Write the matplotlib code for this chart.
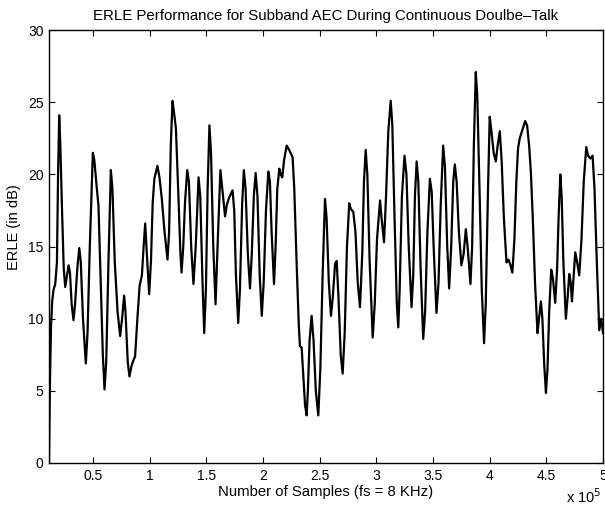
import matplotlib
matplotlib.use("Agg")
import matplotlib.pyplot as plt
import numpy as np

plt.rcParams['font.family'] = ['Liberation Sans', 'DejaVu Sans']

# sample index (in thousands) and ERLE in dB
samples_k = [
    11.0, 11.8, 12.8, 13.8, 15.0, 16.5, 18.0, 19.0, 20.0, 21.0, 22.4, 24.0,
    25.3, 26.5, 28.3, 29.5, 31.0, 32.6, 34.0, 36.0, 37.7, 39.0, 41.0, 43.5,
    45.0, 47.0, 49.7, 51.0, 53.0, 54.7, 56.5, 58.5, 60.0, 61.5, 63.5, 65.6,
    67.0, 69.0, 71.5, 73.8, 75.5, 77.3, 78.5, 80.5, 82.0, 84.0, 87.0, 89.0,
    91.0, 93.0, 94.5, 95.9, 97.0, 99.4, 101.0, 102.5, 104.0, 106.7, 108.5, 110.6,
    113.0, 115.6, 117.0, 118.5, 120.0, 121.5, 123.0, 125.0, 127.0, 128.0, 129.5, 131.0,
    133.0, 134.5, 136.5, 138.5, 140.5, 143.0, 144.5, 146.5, 148.0, 149.5, 151.0, 152.6,
    154.0, 156.0, 158.0, 160.0, 162.3, 164.0, 166.4, 168.0, 170.0, 173.0, 174.5, 176.0,
    178.0, 179.5, 181.5, 183.0, 184.5, 186.5, 188.4, 190.0, 191.8, 193.4, 195.0, 197.0,
    198.8, 200.5, 202.5, 204.6, 206.0, 207.5, 209.6, 211.0, 212.5, 214.3, 215.5, 216.9,
    218.5, 220.8, 223.0, 226.0, 227.5, 229.5, 231.5, 232.5, 234.0, 235.5, 237.0, 238.4,
    239.5, 241.0, 242.8, 244.5, 246.5, 248.7, 250.5, 252.5, 254.6, 256.0, 258.0, 259.9,
    261.5, 263.5, 264.9, 266.5, 268.5, 270.2, 272.0, 274.0, 276.0, 277.5, 279.6, 281.5,
    283.5, 285.5, 287.5, 289.0, 290.5, 292.0, 294.0, 296.7, 298.5, 300.5, 303.2, 304.5,
    306.7, 308.5, 310.5, 312.6, 314.0, 316.0, 318.0, 319.3, 320.5, 322.5, 324.8, 326.5,
    328.5, 331.0, 332.5, 334.0, 335.5, 337.0, 339.0, 341.3, 343.0, 345.0, 347.2, 348.8,
    350.5, 353.0, 354.8, 356.8, 358.9, 360.5, 362.5, 364.2, 366.0, 367.8, 369.2, 370.8,
    372.8, 375.0, 377.0, 378.9, 380.5, 383.0, 384.5, 386.0, 387.7, 389.0, 391.0, 393.0,
    395.0, 396.5, 398.5, 400.0, 401.5, 403.5, 405.4, 407.0, 408.9, 410.5, 412.5, 414.8,
    416.5, 418.0, 420.0, 421.8, 423.5, 425.0, 426.5, 428.5, 431.3, 433.0, 434.8, 436.3,
    438.0, 440.0, 442.2, 443.5, 445.2, 446.5, 448.0, 449.6, 451.0, 452.5, 454.3, 455.8,
    457.8, 459.5, 460.8, 462.3, 463.5, 465.0, 467.2, 468.8, 470.2, 471.5, 472.6, 474.0,
    475.5, 477.0, 479.0, 481.0, 483.0, 485.2, 486.8, 488.8, 490.8, 492.5, 494.5, 496.7,
    498.5, 500.0,
]
erle_db = [
    0.0, 5.5, 9.5, 11.2, 12.0, 12.4, 13.9, 20.0, 24.1, 22.0, 17.8, 13.5,
    12.2, 12.8, 13.7, 13.2, 11.0, 9.9, 11.0, 13.5, 14.9, 14.0, 10.0, 6.9,
    9.0, 15.0, 21.5, 21.0, 19.2, 17.8, 13.0, 7.5, 5.1, 7.0, 14.0, 20.3,
    19.0, 14.0, 10.5, 8.8, 10.0, 11.6, 10.5, 7.0, 6.0, 6.8, 7.4, 10.0,
    12.3, 13.0, 15.0, 16.6, 15.0, 11.7, 14.0, 18.0, 19.7, 20.6, 19.8, 18.3,
    16.0, 14.1, 16.0, 22.0, 25.1, 24.2, 23.2, 19.0, 14.5, 13.2, 15.0, 18.0,
    20.3, 19.5, 15.0, 12.4, 15.0, 19.8, 18.5, 12.5, 9.0, 12.0, 19.0, 23.4,
    21.5, 15.0, 11.0, 15.5, 20.3, 19.0, 17.1, 17.9, 18.4, 18.9, 17.5, 13.0,
    9.7, 12.0, 18.0, 20.3, 19.0, 14.5, 12.1, 14.5, 18.5, 20.1, 18.5, 13.0,
    10.2, 12.5, 17.5, 20.2, 19.5, 16.0, 12.4, 15.0, 19.0, 20.4, 20.0, 19.8,
    21.0, 22.0, 21.7, 21.2, 19.0, 14.0, 9.5, 8.1, 8.0, 6.0, 4.0, 3.3,
    5.0, 8.5, 10.2, 8.5, 5.0, 3.3, 6.5, 13.0, 18.3, 17.0, 12.5, 10.2,
    11.5, 13.8, 14.0, 11.5, 7.5, 6.2, 9.0, 15.0, 18.0, 17.6, 17.4, 16.0,
    12.5, 10.8, 14.5, 19.5, 21.7, 20.0, 14.0, 8.7, 11.0, 15.5, 18.2, 17.0,
    15.3, 18.5, 23.0, 25.1, 23.5, 17.0, 11.0, 9.4, 12.0, 18.5, 21.3, 20.0,
    15.0, 10.8, 13.0, 18.5, 20.9, 19.5, 13.5, 8.6, 10.5, 16.0, 19.7, 18.8,
    15.0, 10.4, 12.5, 18.0, 22.0, 20.5, 15.0, 12.1, 15.0, 19.5, 20.7, 19.5,
    16.0, 13.7, 14.5, 16.2, 15.0, 12.4, 15.0, 22.0, 27.1, 25.5, 19.0, 12.0,
    8.3, 11.0, 19.0, 24.0, 23.0, 21.5, 20.9, 22.0, 23.0, 21.0, 17.0, 13.9,
    14.1, 13.8, 13.2, 15.5, 19.5, 21.8, 22.5, 23.0, 23.7, 23.4, 22.0, 20.2,
    17.0, 12.5, 9.0, 10.0, 11.2, 10.0, 7.0, 4.85, 6.5, 10.5, 13.4, 12.8,
    11.1, 13.5, 17.0, 20.0, 18.5, 14.0, 10.0, 11.5, 13.1, 12.5, 11.2, 12.8,
    14.6, 14.0, 13.0, 15.5, 19.5, 21.9, 21.3, 21.1, 21.3, 19.0, 14.0, 9.2,
    10.0, 9.0,
]
xtick_vals = [0.5, 1, 1.5, 2, 2.5, 3, 3.5, 4, 4.5, 5]
ytick_vals = [0, 5, 10, 15, 20, 25, 30]

x = np.array(samples_k) * 1e3

fig = plt.figure(figsize=(6.05, 5.08), dpi=100)
# axes box: left 49px, right 603px, top 30px, bottom 463px
ax = fig.add_axes([0.081, 0.0886, 0.9157, 0.852])
ax.plot(x, erle_db, color='black', linewidth=1.6, solid_joinstyle='round')

ax.set_xlim(x[0], 5e5)
ax.set_ylim(0, 30)
ax.set_xticks([v * 1e5 for v in xtick_vals])
ax.set_xticklabels([f'{v:g}' for v in xtick_vals])
ax.set_yticks(ytick_vals)
ax.tick_params(direction='in', top=True, right=True, length=4, width=0.8,
               labelsize=10)
ax.tick_params(axis='x', pad=4)
ax.tick_params(axis='y', pad=4)
for s in ax.spines.values():
    s.set_linewidth(1.0)

ax.set_title('ERLE Performance for Subband AEC During Continuous Doulbe\u2013Talk',
             fontsize=10.8, pad=7)
ax.set_xlabel('Number of Samples (fs = 8 KHz)', fontsize=10.7)
ax.xaxis.set_label_coords(0.5, -0.05)
ax.set_ylabel('ERLE (in dB)', fontsize=10.5)
ax.yaxis.set_label_coords(-0.05, 0.545)
fig.text(0.935, 0.022, r'x 10$^5$', fontsize=10.5, ha='left', va='center')

fig.savefig('out.png', dpi=100)
